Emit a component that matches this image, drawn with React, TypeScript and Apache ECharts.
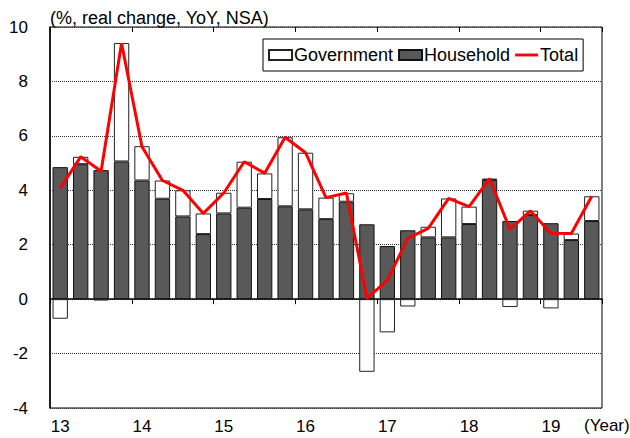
import React, { useEffect, useRef } from "react";
import * as echarts from "echarts";

const quarters: string[] = [
  "13Q1", "13Q2", "13Q3", "13Q4",
  "14Q1", "14Q2", "14Q3", "14Q4",
  "15Q1", "15Q2", "15Q3", "15Q4",
  "16Q1", "16Q2", "16Q3", "16Q4",
  "17Q1", "17Q2", "17Q3", "17Q4",
  "18Q1", "18Q2", "18Q3", "18Q4",
  "19Q1", "19Q2", "19Q3",
];

const household: number[] = [
  4.85, 4.96, 4.74, 5.06, 4.36, 3.69, 3.04, 2.39, 3.15, 3.36, 3.68, 3.41, 3.3, 2.94,
  3.58, 2.75, 1.95, 2.53, 2.27, 2.27, 2.76, 4.38, 2.87, 3.09, 2.79, 2.17, 2.87,
];

const government: number[] = [
  -0.72, 0.27, -0.05, 4.35, 1.26, 0.67, 0.96, 0.76, 0.76, 1.69, 0.94, 2.54, 2.08, 0.79,
  0.31, -2.67, -1.22, -0.27, 0.39, 1.43, 0.64, 0.05, -0.29, 0.16, -0.34, 0.24, 0.91,
];

const total: number[] = [
  4.08, 5.23, 4.7, 9.4, 5.6, 4.36, 4.0, 3.15, 3.9, 5.05, 4.63, 5.95, 5.38, 3.73,
  3.9, 0.03, 0.69, 2.23, 2.6, 3.7, 3.4, 4.43, 2.56, 3.24, 2.42, 2.41, 3.78,
];

const yTicks = { min: -4, max: 10, interval: 2 };

const FONT = "'Liberation Sans', Arial, sans-serif";

export default function App() {
  const ref = useRef<HTMLDivElement>(null);
  useEffect(() => {
    if (!ref.current) return;
    const chart = echarts.init(ref.current, undefined, { renderer: "svg" });
    const yearTick = (index: number) => index % 4 === 0;
    chart.setOption({
      animation: false,
      textStyle: { fontFamily: FONT },
      grid: {
        left: 50,
        right: 28,
        top: 27,
        bottom: 30,
        show: true,
        borderColor: "#000",
        borderWidth: 1,
        containLabel: false,
        outerBoundsMode: "none",
      },
      legend: {
        data: [
          { name: "Government", icon: "rect" },
          { name: "Household", icon: "rect" },
          { name: "Total", icon: "path://M0,0 L24,0 L24,3 L0,3 Z", itemStyle: { color: "#ff0000" } },
        ],
        left: 263,
        top: 39,
        orient: "horizontal",
        borderColor: "#000",
        borderWidth: 1,
        padding: [7, 5, 7, 5],
        itemGap: 5,
        itemWidth: 23,
        itemHeight: 10,
        backgroundColor: "#fff",
        textStyle: { fontFamily: FONT, fontSize: 18, color: "#000", padding: [0, 0, 0, -3] },
      },
      graphic: [
        {
          type: "text",
          left: 50,
          top: 9,
          style: { text: "(%, real change, YoY, NSA)", font: `18px ${FONT}`, fill: "#000" },
        },
        {
          type: "text",
          left: 584,
          top: 417,
          style: { text: "(Year)", font: `17px ${FONT}`, fill: "#000" },
        },
      ],
      xAxis: [
        {
          type: "category",
          data: quarters,
          axisLine: { onZero: true, lineStyle: { color: "#000", width: 1.5 } },
          axisTick: { show: true, interval: yearTick, alignWithLabel: false, length: 5, lineStyle: { color: "#000" } },
          axisLabel: { show: false },
          splitLine: { show: false },
        },
        {
          type: "category",
          data: quarters,
          axisLine: { show: false, onZero: true },
          axisTick: { show: true, inside: true, interval: yearTick, alignWithLabel: false, length: 5, lineStyle: { color: "#000" } },
          axisLabel: { show: false },
          splitLine: { show: false },
        },
        {
          type: "category",
          data: quarters,
          position: "bottom",
          axisLine: { show: false, onZero: false },
          axisTick: { show: false },
          axisLabel: {
            show: true,
            interval: yearTick,
            formatter: (v: string) => v.slice(0, 2),
            fontSize: 17,
            color: "#000",
            fontFamily: FONT,
            margin: 10,
          },
          splitLine: { show: false },
        },
      ],
      yAxis: {
        type: "value",
        min: yTicks.min,
        max: yTicks.max,
        interval: yTicks.interval,
        axisLine: { show: true, lineStyle: { color: "#000", width: 1.5 } },
        axisTick: { show: false },
        axisLabel: { fontSize: 17, color: "#000", margin: 22, fontFamily: FONT },
        splitLine: { show: true, lineStyle: { color: "#333", type: "dotted", width: 1 } },
      },
      series: [
        {
          name: "Household",
          type: "bar",
          stack: "a",
          xAxisIndex: 0,
          barWidth: "75%",
          data: household,
          itemStyle: { color: "#595959", borderColor: "#111", borderWidth: 1 },
        },
        {
          name: "Government",
          type: "bar",
          stack: "a",
          xAxisIndex: 0,
          barWidth: "75%",
          data: government,
          itemStyle: { color: "#fff", borderColor: "#222", borderWidth: 1 },
        },
        {
          name: "Total",
          type: "line",
          xAxisIndex: 0,
          data: total,
          symbol: "none",
          z: 5,
          lineStyle: { color: "#ff0000", width: 3 },
          itemStyle: { color: "#ff0000" },
        },
      ],
    });
    return () => chart.dispose();
  }, []);
  return (
    <div
      ref={ref}
      style={{ position: "fixed", left: 0, top: 0, width: 630, height: 438, background: "#fff" }}
    />
  );
}
